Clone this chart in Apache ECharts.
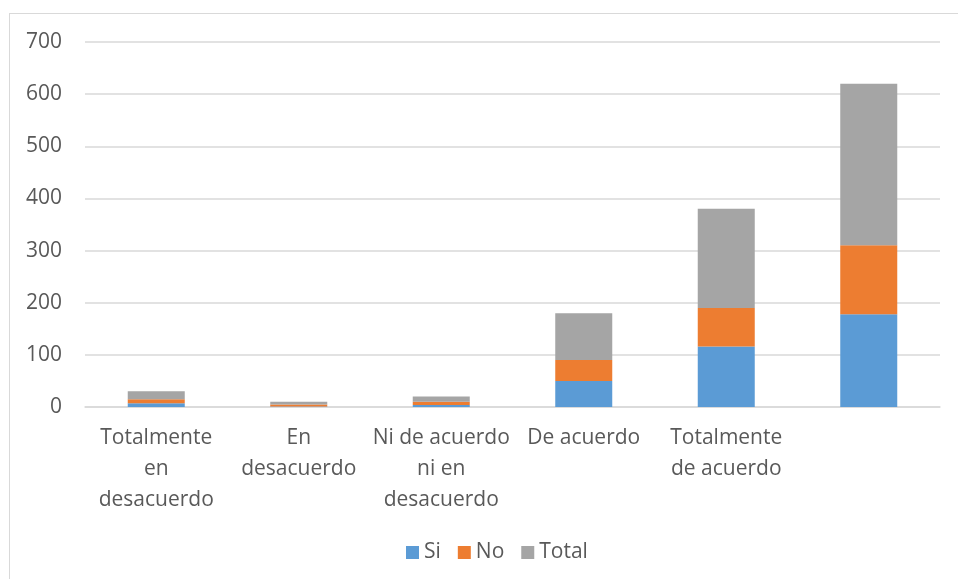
<!DOCTYPE html>
<html>
<head>
<meta charset="utf-8">
<script src="https://cdn.jsdelivr.net/npm/echarts@6/dist/echarts.min.js"></script>
<style>
  html, body { margin: 0; padding: 0; background: #fff; }
  #frame { position: absolute; left: 9px; top: 13px; width: 960px; height: 580px; border: 1px solid #d9d9d9; box-sizing: border-box; }
  #chart { position: absolute; left: 0; top: 0; width: 958px; height: 579px; }
</style>
</head>
<body>
<div id="frame"></div>
<div id="chart"></div>
<script>
const categories = ['Totalmente\nen\ndesacuerdo', 'En\ndesacuerdo', 'Ni de acuerdo\nni en\ndesacuerdo', 'De acuerdo', 'Totalmente\nde acuerdo', ''];
const siValues = [7, 1, 4, 50, 116, 178];
const noValues = [8, 4, 6, 40, 74, 132];
const totalValues = [15, 5, 10, 90, 190, 310];
const yTicks = { min: 0, max: 700, interval: 100 };

const chart = echarts.init(document.getElementById('chart'));
const font = 'Open Sans, Noto Sans, sans-serif';

function barSeries(name, data, color) {
  return {
    name: name,
    type: 'bar',
    stack: 'all',
    data: data,
    barWidth: 57,
    itemStyle: { color: color },
  };
}

chart.setOption({
  animation: false,
  textStyle: { fontFamily: font },
  grid: { left: 85, right: 18, top: 42, bottom: 172 },
  legend: {
    top: 537,
    left: 401,
    itemWidth: 13,
    itemHeight: 13,
    itemGap: 17,
    icon: 'rect',
    textStyle: { color: '#595959', fontSize: 21, fontFamily: font, padding: [0, 0, 0, 0] },
    data: ['Si', 'No', 'Total'],
  },
  xAxis: {
    type: 'category',
    data: categories,
    axisLine: { lineStyle: { color: '#d9d9d9', width: 1.5 } },
    axisTick: { show: false },
    axisLabel: { color: '#595959', fontSize: 21, lineHeight: 31, margin: 16, interval: 0 },
  },
  yAxis: {
    type: 'value',
    min: yTicks.min,
    max: yTicks.max,
    interval: yTicks.interval,
    axisLine: { show: false },
    axisTick: { show: false },
    axisLabel: { color: '#595959', fontSize: 21, margin: 23 },
    splitLine: { lineStyle: { color: '#d9d9d9', width: 1.5 } },
  },
  series: [
    barSeries('Si', siValues, '#5b9bd5'),
    barSeries('No', noValues, '#ed7d31'),
    barSeries('Total', totalValues, '#a5a5a5'),
  ],
});
</script>
</body>
</html>
